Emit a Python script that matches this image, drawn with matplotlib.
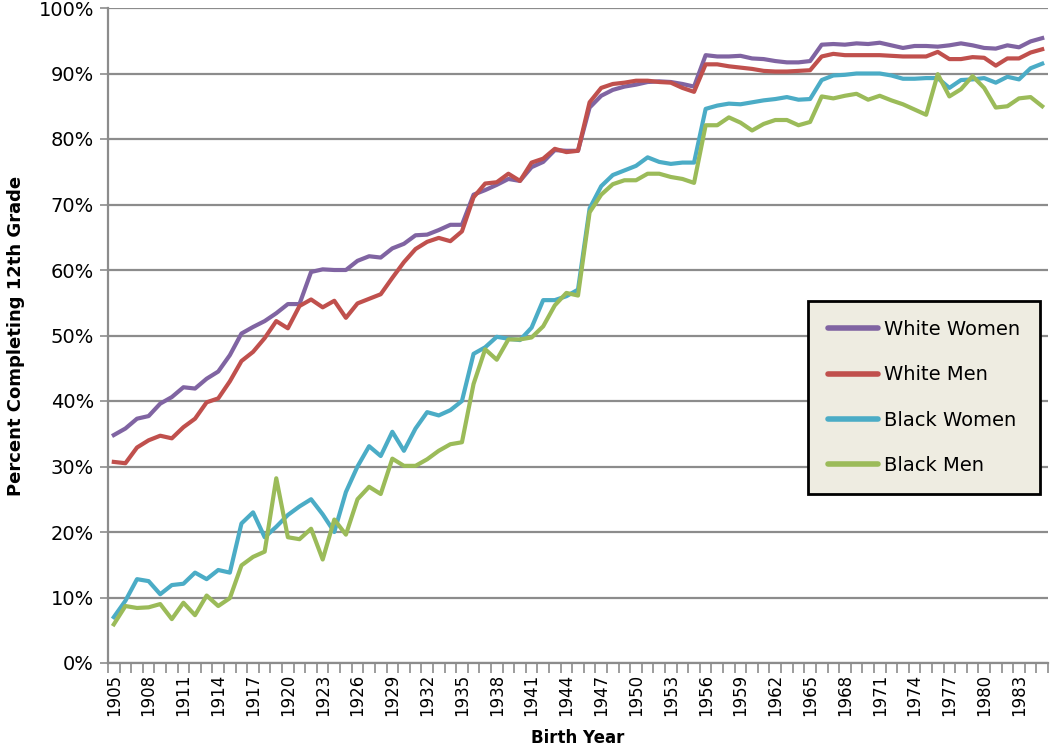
import numpy as np
import matplotlib
matplotlib.use('Agg')
import matplotlib.pyplot as plt
from matplotlib.ticker import FixedLocator, NullFormatter, FixedFormatter

plt.rcParams['font.family'] = ['Liberation Sans Narrow', 'DejaVu Sans']

years = list(range(1905, 1986))

white_women = [34.8, 35.8, 37.3, 37.7, 39.6, 40.6, 42.1, 41.9, 43.4, 44.5,
               47.0, 50.3, 51.3, 52.2, 53.4, 54.8, 54.8, 59.7, 60.1, 60.0,
               60.0, 61.4, 62.1, 61.9, 63.3, 64.0, 65.3, 65.4, 66.1, 66.9,
               66.9, 71.5, 72.2, 73.0, 73.9, 73.6, 75.7, 76.5, 78.3, 78.2,
               78.2, 84.8, 86.6, 87.5, 88.0, 88.3, 88.7, 88.8, 88.7, 88.4,
               88.0, 92.8, 92.6, 92.6, 92.7, 92.3, 92.2, 91.9, 91.7, 91.7,
               91.9, 94.4, 94.5, 94.4, 94.6, 94.5, 94.7, 94.3, 93.9, 94.2,
               94.2, 94.1, 94.3, 94.6, 94.3, 93.9, 93.8, 94.3, 94.0, 94.9,
               95.4]

white_men = [30.7, 30.5, 32.9, 34.0, 34.7, 34.3, 36.0, 37.3, 39.8, 40.4,
             43.0, 46.1, 47.5, 49.6, 52.2, 51.1, 54.5, 55.5, 54.3, 55.3,
             52.7, 54.9, 55.6, 56.3, 58.8, 61.2, 63.2, 64.3, 64.9, 64.4,
             65.9, 71.1, 73.2, 73.4, 74.7, 73.6, 76.4, 77.0, 78.5, 78.0,
             78.2, 85.6, 87.8, 88.4, 88.6, 88.9, 88.9, 88.7, 88.6, 87.8,
             87.2, 91.4, 91.4, 91.1, 90.9, 90.7, 90.4, 90.3, 90.3, 90.4,
             90.5, 92.6, 93.0, 92.8, 92.8, 92.8, 92.8, 92.7, 92.6, 92.6,
             92.6, 93.3, 92.2, 92.2, 92.5, 92.4, 91.2, 92.3, 92.3, 93.2,
             93.7]

black_women = [7.0, 9.5, 12.8, 12.5, 10.5, 11.9, 12.1, 13.8, 12.8, 14.2,
               13.8, 21.3, 23.0, 19.2, 20.8, 22.6, 23.9, 25.0, 22.7, 20.0,
               26.1, 30.0, 33.1, 31.6, 35.3, 32.4, 35.8, 38.3, 37.8, 38.6,
               40.0, 47.2, 48.2, 49.8, 49.5, 49.3, 51.2, 55.4, 55.4, 56.0,
               57.0, 69.4, 72.8, 74.5, 75.2, 75.9, 77.2, 76.5, 76.2, 76.4,
               76.4, 84.6, 85.1, 85.4, 85.3, 85.6, 85.9, 86.1, 86.4, 86.0,
               86.1, 89.0, 89.7, 89.8, 90.0, 90.0, 90.0, 89.7, 89.2, 89.2,
               89.3, 89.3, 87.8, 89.0, 89.1, 89.3, 88.6, 89.5, 89.1, 90.8,
               91.5]

black_men = [5.9, 8.7, 8.4, 8.5, 9.0, 6.7, 9.2, 7.3, 10.3, 8.7,
             9.9, 14.9, 16.2, 17.0, 28.2, 19.2, 18.9, 20.5, 15.8, 21.9,
             19.6, 25.0, 26.9, 25.8, 31.2, 30.1, 30.1, 31.1, 32.4, 33.4,
             33.7, 42.6, 47.9, 46.3, 49.4, 49.4, 49.7, 51.4, 54.6, 56.5,
             56.1, 68.8, 71.5, 73.1, 73.7, 73.7, 74.7, 74.7, 74.2, 73.9,
             73.3, 82.1, 82.1, 83.3, 82.5, 81.3, 82.3, 82.9, 82.9, 82.1,
             82.6, 86.5, 86.2, 86.6, 86.9, 86.0, 86.6, 85.9, 85.3, 84.5,
             83.7, 89.9, 86.5, 87.6, 89.6, 87.8, 84.8, 85.0, 86.2, 86.4,
             85.0]

series = [('White Women', white_women, '#8064A2'),
          ('White Men', white_men, '#C0504D'),
          ('Black Women', black_women, '#4BACC6'),
          ('Black Men', black_men, '#9BBB59')]

fig = plt.figure(figsize=(10.5, 7.54), dpi=100)
ax = fig.add_axes([108 / 1050, 1 - 663 / 754, 940 / 1050, 655 / 754])

x = np.arange(len(years))
for name, vals, col in series:
    ax.plot(x, vals, color=col, lw=3.0, label=name, solid_joinstyle='round', zorder=3)

ax.set_xlim(-0.5, len(years) - 0.5)
ax.set_ylim(0, 100)

# y axis
ax.set_yticks(np.arange(0, 101, 10))
ax.set_yticklabels([f'{v}%' for v in range(0, 101, 10)], fontsize=14)
ax.yaxis.grid(True, color='#8c8c8c', lw=1.6, zorder=0)
ax.tick_params(axis='y', length=6, width=1.2, color='#8c8c8c', pad=4)

# x axis: tick marks between categories, labels every 3 years
ax.xaxis.set_major_locator(FixedLocator(np.arange(-0.5, len(years), 1)))
ax.xaxis.set_major_formatter(NullFormatter())
lab_idx = list(range(0, len(years), 3))
ax.xaxis.set_minor_locator(FixedLocator(lab_idx))
ax.xaxis.set_minor_formatter(FixedFormatter([str(years[i]) for i in lab_idx]))
ax.tick_params(axis='x', which='major', length=7, width=1.2, color='#8c8c8c', direction='out')
ax.tick_params(axis='x', which='minor', length=0, labelsize=12, labelrotation=90, pad=8)

for s in ['top', 'right']:
    ax.spines[s].set_visible(False)
for s in ['left', 'bottom']:
    ax.spines[s].set_color('#8c8c8c')
    ax.spines[s].set_linewidth(1.6)

ax.set_ylabel('Percent Completing 12th Grade', fontsize=13, fontweight='bold', labelpad=10)
ax.set_xlabel('Birth Year', fontsize=12, fontweight='bold', labelpad=9)

leg = ax.legend(loc='upper left', bbox_to_anchor=(0.745, 0.553), fontsize=14,
                frameon=True, fancybox=False, edgecolor='black', facecolor='#EEECE1',
                framealpha=1, handlelength=2.6, handletextpad=0.3,
                labelspacing=1.35, borderpad=1.0, borderaxespad=0)
leg.get_frame().set_linewidth(2)
for h in leg.get_lines():
    h.set_linewidth(4)
    h.set_solid_capstyle('round')

fig.savefig('out.png', dpi=100)
